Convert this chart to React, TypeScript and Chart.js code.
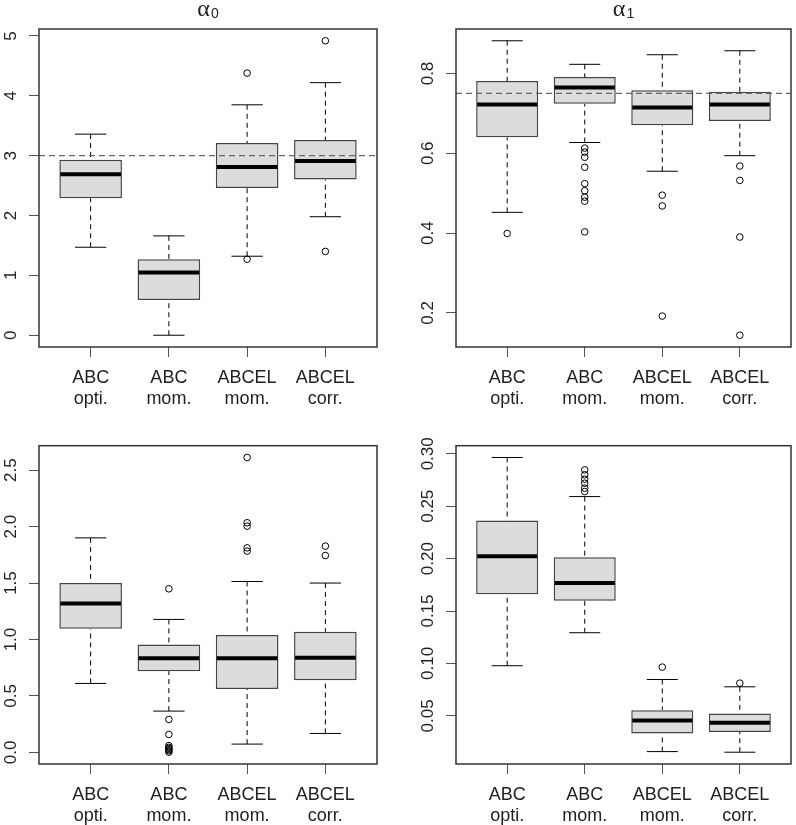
import { useEffect, useRef } from "react";
import { Chart, registerables } from "chart.js";
Chart.register(...registerables);
Chart.defaults.font.family = "'Liberation Sans', Arial, sans-serif";

const categories = [["ABC", "opti."], ["ABC", "mom."], ["ABCEL", "mom."], ["ABCEL", "corr."]];
const positions = [1, 2, 3, 4];

// alpha_0 (top left)
const a0Lower = [1.47, 0.0, 1.32, 1.98];
const a0Q1 = [2.29, 0.59, 2.46, 2.6];
const a0Median = [2.69, 1.05, 2.81, 2.91];
const a0Q3 = [2.93, 1.27, 3.21, 3.26];
const a0Upper = [3.36, 1.66, 3.85, 4.22];
const a0Outliers = [[], [], [4.38, 1.27], [4.92, 1.4]];
const a0Ticks = [0, 1, 2, 3, 4, 5];
const a0TickLabels = ["0", "1", "2", "3", "4", "5"];
const a0Truth = 3;

// alpha_1 (top right)
const a1Lower = [0.452, 0.627, 0.555, 0.594];
const a1Q1 = [0.64, 0.724, 0.67, 0.681];
const a1Median = [0.722, 0.765, 0.715, 0.722];
const a1Q3 = [0.781, 0.791, 0.758, 0.754];
const a1Upper = [0.882, 0.823, 0.847, 0.857];
const a1Outliers = [[0.399], [0.613, 0.603, 0.59, 0.565, 0.524, 0.506, 0.49, 0.48, 0.403], [0.495, 0.468, 0.192], [0.568, 0.532, 0.39, 0.144]];
const a1Ticks = [0.2, 0.4, 0.6, 0.8];
const a1TickLabels = ["0.2", "0.4", "0.6", "0.8"];
const a1Truth = 0.75;

// bottom left
const b0Lower = [0.611, 0.366, 0.074, 0.168];
const b0Q1 = [1.095, 0.72, 0.561, 0.64];
const b0Median = [1.32, 0.835, 0.835, 0.838];
const b0Q3 = [1.5, 0.956, 1.039, 1.068];
const b0Upper = [1.9, 1.178, 1.514, 1.5];
const b0Outliers = [[], [1.449, 0.292, 0.159, 0.06, 0.045, 0.035, 0.025, 0.015, 0.002], [2.612, 2.034, 2.004, 1.812, 1.783], [1.827, 1.744]];
const b0Ticks = [0, 0.5, 1, 1.5, 2, 2.5];
const b0TickLabels = ["0.0", "0.5", "1.0", "1.5", "2.0", "2.5"];

// bottom right
const b1Lower = [0.0978, 0.1293, 0.0159, 0.0153];
const b1Q1 = [0.1659, 0.1599, 0.0331, 0.0347];
const b1Median = [0.2022, 0.1768, 0.0455, 0.0433];
const b1Q3 = [0.2363, 0.2013, 0.0554, 0.0522];
const b1Upper = [0.2965, 0.2592, 0.0847, 0.0777];
const b1Outliers = [[], [0.2847, 0.28, 0.2758, 0.272, 0.2672, 0.264], [0.0965], [0.0812]];
const b1Ticks = [0.05, 0.1, 0.15, 0.2, 0.25, 0.3];
const b1TickLabels = ["0.05", "0.10", "0.15", "0.20", "0.25", "0.30"];

type PanelData = {
  lower: number[]; q1: number[]; median: number[]; q3: number[]; upper: number[];
  outliers: number[][]; ticks: number[]; tickLabels: string[]; truth?: number; title?: string; sub?: string;
};

const panels: { data: PanelData; left: number; top: number; width: number; height: number; frame: { left: number; top: number; right: number; bottom: number } }[] = [
  {
    data: { lower: a0Lower, q1: a0Q1, median: a0Median, q3: a0Q3, upper: a0Upper, outliers: a0Outliers, ticks: a0Ticks, tickLabels: a0TickLabels, truth: a0Truth, title: "α", sub: "0" },
    left: 0, top: 0, width: 398, height: 420, frame: { left: 39, top: 29, right: 377, bottom: 347 },
  },
  {
    data: { lower: a1Lower, q1: a1Q1, median: a1Median, q3: a1Q3, upper: a1Upper, outliers: a1Outliers, ticks: a1Ticks, tickLabels: a1TickLabels, truth: a1Truth, title: "α", sub: "1" },
    left: 398, top: 0, width: 398, height: 420, frame: { left: 58, top: 29, right: 396, bottom: 347 },
  },
  {
    data: { lower: b0Lower, q1: b0Q1, median: b0Median, q3: b0Q3, upper: b0Upper, outliers: b0Outliers, ticks: b0Ticks, tickLabels: b0TickLabels },
    left: 0, top: 420, width: 398, height: 405, frame: { left: 39, top: 25.7, right: 377, bottom: 344 },
  },
  {
    data: { lower: b1Lower, q1: b1Q1, median: b1Median, q3: b1Q3, upper: b1Upper, outliers: b1Outliers, ticks: b1Ticks, tickLabels: b1TickLabels },
    left: 398, top: 420, width: 398, height: 405, frame: { left: 58, top: 25.7, right: 396, bottom: 344 },
  },
];

function makePlugin(p: PanelData) {
  return {
    id: "boxExtras",
    beforeDatasetsDraw(chart: any) {
      const { ctx, scales } = chart;
      const x = scales.x, y = scales.y;
      ctx.save();
      ctx.strokeStyle = "#000";
      ctx.lineWidth = 1;
      positions.forEach((pos, i) => {
        const cx = x.getPixelForValue(pos);
        ctx.setLineDash([5, 4]);
        ctx.beginPath();
        ctx.moveTo(cx, y.getPixelForValue(p.upper[i]));
        ctx.lineTo(cx, y.getPixelForValue(p.q3[i]));
        ctx.moveTo(cx, y.getPixelForValue(p.lower[i]));
        ctx.lineTo(cx, y.getPixelForValue(p.q1[i]));
        ctx.stroke();
        ctx.setLineDash([]);
        const l = x.getPixelForValue(pos - 0.2), r = x.getPixelForValue(pos + 0.2);
        ctx.beginPath();
        ctx.moveTo(l, y.getPixelForValue(p.upper[i]));
        ctx.lineTo(r, y.getPixelForValue(p.upper[i]));
        ctx.moveTo(l, y.getPixelForValue(p.lower[i]));
        ctx.lineTo(r, y.getPixelForValue(p.lower[i]));
        ctx.stroke();
      });
      ctx.restore();
    },
    afterDatasetsDraw(chart: any) {
      const { ctx, scales, chartArea } = chart;
      const x = scales.x, y = scales.y;
      ctx.save();
      ctx.strokeStyle = "#000";
      ctx.lineWidth = 4;
      ctx.lineCap = "butt";
      positions.forEach((pos, i) => {
        const l = x.getPixelForValue(pos - 0.4) + 1, r = x.getPixelForValue(pos + 0.4) - 1;
        const yy = y.getPixelForValue(p.median[i]);
        ctx.beginPath();
        ctx.moveTo(l, yy);
        ctx.lineTo(r, yy);
        ctx.stroke();
      });
      if (p.truth !== undefined) {
        const yy = y.getPixelForValue(p.truth);
        ctx.strokeStyle = "#666";
        ctx.lineWidth = 1.2;
        ctx.setLineDash([6, 4]);
        ctx.beginPath();
        ctx.moveTo(chartArea.left, yy);
        ctx.lineTo(chartArea.right, yy);
        ctx.stroke();
      }
      ctx.restore();
    },
    afterDraw(chart: any) {
      const { ctx, scales, chartArea } = chart;
      const y = scales.y;
      ctx.save();
      ctx.strokeStyle = "#333";
      ctx.lineWidth = 1.5;
      ctx.strokeRect(chartArea.left, chartArea.top, chartArea.right - chartArea.left, chartArea.bottom - chartArea.top);
      ctx.fillStyle = "#222";
      ctx.font = "17px 'Liberation Sans', Arial, sans-serif";
      ctx.textAlign = "center";
      ctx.textBaseline = "alphabetic";
      p.ticks.forEach((t, i) => {
        const yy = y.getPixelForValue(t);
        ctx.save();
        ctx.translate(chartArea.left - 23.5, yy);
        ctx.rotate(-Math.PI / 2);
        ctx.fillText(p.tickLabels[i], 0, 0);
        ctx.restore();
      });
      if (p.title) {
        const cx = (chartArea.left + chartArea.right) / 2;
        ctx.font = "24px 'Liberation Serif', serif";
        const wA = ctx.measureText(p.title).width;
        ctx.font = "14px 'Liberation Sans', sans-serif";
        const wS = ctx.measureText(p.sub || "").width;
        const x0 = cx - (wA + wS + 1) / 2;
        ctx.textAlign = "left";
        ctx.font = "24px 'Liberation Serif', serif";
        ctx.fillText(p.title, x0, 15.5);
        ctx.font = "14px 'Liberation Sans', sans-serif";
        ctx.fillText(p.sub || "", x0 + wA + 1, 17.5);
      }
      ctx.restore();
    },
  };
}

function BoxPanel({ panel }: { panel: (typeof panels)[number] }) {
  const ref = useRef<HTMLCanvasElement>(null);
  useEffect(() => {
    const canvas = ref.current!;
    const p = panel.data;
    const frame = panel.frame;
    const allVals = [...p.lower, ...p.upper, ...p.outliers.flat()];
    const lo = Math.min(...allVals);
    const hi = Math.max(...allVals);
    const pad = (hi - lo) * 0.04;
    const chart = new Chart(canvas, {
      type: "bar",
      data: {
        datasets: [
          {
            type: "bar",
            data: positions.map((xv, i) => ({ x: xv, y: [p.q1[i], p.q3[i]] })) as any,
            backgroundColor: "#dcdcdc",
            borderColor: "#444",
            borderWidth: 1.5,
            borderSkipped: false,
            barPercentage: 0.8,
            categoryPercentage: 1,
          } as any,
          {
            type: "scatter",
            data: p.outliers.flatMap((arr, i) => arr.map((v) => ({ x: positions[i], y: v }))),
            pointStyle: "circle",
            pointRadius: 3.3,
            pointBorderWidth: 1,
            pointBorderColor: "#000",
            pointBackgroundColor: "rgba(0,0,0,0)",
          } as any,
        ],
      },
      options: {
        responsive: false,
        animation: false,
        devicePixelRatio: 1,
        layout: { padding: { left: 0, top: frame.top, right: panel.width - frame.right, bottom: 0 } },
        plugins: { legend: { display: false }, tooltip: { enabled: false }, title: { display: false } },
        scales: {
          x: {
            type: "linear",
            offset: false,
            min: 0.34,
            max: 4.66,
            afterBuildTicks: (s: any) => { s.ticks = positions.map((v) => ({ value: v })); },
            afterFit: (s: any) => { s.height = panel.height - frame.bottom; },
            ticks: {
              callback: (v: any) => categories[Math.round(v) - 1],
              font: { size: 18, lineHeight: 1.2 },
              color: "#222",
              padding: 10,
              maxRotation: 0,
              minRotation: 0,
              autoSkip: false,
            },
            grid: { offset: false, drawOnChartArea: false, drawTicks: true, tickLength: 10, color: "#555" },
            border: { display: false },
          },
          y: {
            type: "linear",
            min: lo - pad,
            max: hi + pad,
            afterBuildTicks: (s: any) => { s.ticks = p.ticks.map((v) => ({ value: v })); },
            afterFit: (s: any) => { s.width = frame.left; },
            ticks: { display: false },
            grid: { drawOnChartArea: false, drawTicks: true, tickLength: 10, color: "#555" },
            border: { display: false },
          },
        },
      } as any,
      plugins: [makePlugin(p)],
    });
    return () => chart.destroy();
  }, [panel]);
  return (
    <canvas
      ref={ref}
      width={panel.width}
      height={panel.height}
      style={{ position: "absolute", left: panel.left, top: panel.top, width: panel.width, height: panel.height, display: "block" }}
    />
  );
}

export default function App() {
  return (
    <div style={{ position: "absolute", left: 0, top: 0, width: 796, height: 825, background: "#fff", overflow: "hidden" }}>
      {panels.map((panel, i) => (
        <BoxPanel key={i} panel={panel} />
      ))}
    </div>
  );
}
